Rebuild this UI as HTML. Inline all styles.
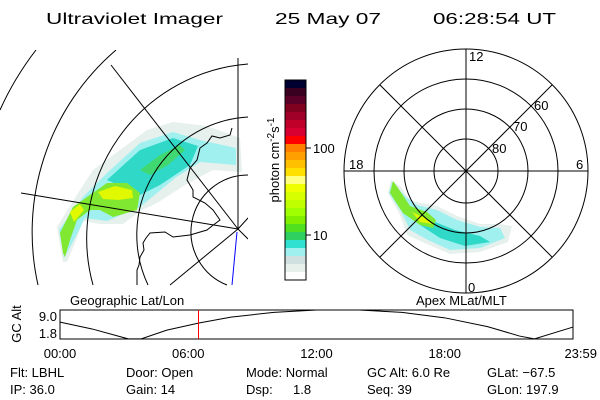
<!DOCTYPE html>
<html><head><meta charset="utf-8"><style>
html,body{margin:0;padding:0;background:#fff;overflow:hidden;width:600px;height:400px;}
svg{display:block;overflow:hidden;font-family:"Liberation Sans",sans-serif;}
</style></head><body>
<svg id="c" width="600" height="400" viewBox="0 0 600 400">
<g font-size="16" fill="#000">
<text x="46" y="24" textLength="177" lengthAdjust="spacingAndGlyphs">Ultraviolet Imager</text>
<text x="275" y="24" textLength="106" lengthAdjust="spacingAndGlyphs">25 May 07</text>
<text x="433" y="24" textLength="123" lengthAdjust="spacingAndGlyphs">06:28:54 UT</text>
</g>
<defs><clipPath id="lc"><rect x="0" y="50" width="248" height="236"/></clipPath>
<clipPath id="pc"><circle cx="466" cy="171" r="122"/></clipPath></defs>
<g clip-path="url(#lc)">
<g>
<path d="M63,262 L57,227 L80,190 L93,170 L120,150 L147,130 L173,122 L207,126 L240,138 L242,172 L213,170 L185,185 L157,203 L140,211 L123,224 L100,224 L83,221 L77,238 L67,262Z" fill="#e6f0ec"/>
<path d="M64,258 L59,230 L83,197 L107,173 L140,143 L173,132 L200,140 L236,148 L236,165 L200,162 L175,178 L157,193 L140,207 L107,221 L85,218 L75,238Z" fill="#a0f0f0"/>
<path d="M107,180 L140,150 L173,138 L198,146 L190,165 L160,185 L140,195Z" fill="#30d8c8"/>
<path d="M63,253 L60,233 L73,207 L87,197 L107,183 L127,183 L140,193 L137,210 L113,217 L100,210 L90,210 L77,220 L70,240 L65,257Z" fill="#80e830"/>
<path d="M98,192 L115,186 L132,190 L133,198 L118,200 L103,199Z M70,212 L80,204 L84,210 L74,222Z" fill="#e0f800"/>
<path d="M140,170 L160,155 L180,145 L185,150 L168,165 L150,175Z" fill="#40d870"/>
</g>
<g fill="none" stroke="#000" stroke-width="1">
<path d="M148,285 A118,118 0 0 1 248,117"/>
<path d="M93,285 A175,175 0 0 1 248,64"/>
<path d="M38,285 A240,240 0 0 1 116,50"/>
<path d="M0,110 A298,298 0 0 1 36,50"/>
<path d="M227,285 A57,57 0 0 1 248,175"/>
<line x1="238" y1="229" x2="21" y2="193"/><line x1="238" y1="229" x2="111" y2="65"/><line x1="238" y1="229" x2="238" y2="58"/>
<line x1="238" y1="229" x2="170" y2="285"/><line x1="238" y1="229" x2="248" y2="218"/><line x1="238" y1="229" x2="248" y2="239"/>
</g>
<path d="M237,232 L232,285" stroke="#0000ff" fill="none"/>
<path d="M232,128 L230,135 L220,138 L212,136 L207,143 L200,148 L197,160 L190,168 L187,180 L193,190 L193,197 L205,203 L213,210 L220,220 L212,226 L207,230 L190,235 L173,237 L165,232 L150,233 L146,238 L143,243 L144,250 L140,257 L139,265 L137,270 L137,285" fill="none" stroke="#000" stroke-width="1"/>
</g>
<g id="cb"></g>
<text transform="translate(279,160) rotate(-90)" text-anchor="middle" font-size="13">photon cm<tspan dy="-5" font-size="10">-2</tspan><tspan dy="5">s</tspan><tspan dy="-5" font-size="10">-1</tspan></text>
<g>
<g clip-path="url(#pc)">
<path d="M391,180 L388,193 L400,215 L407,235 L427,244 L450,254 L480,252 L508,242 L512,226 L500,224 L480,224 L457,216 L437,206 L417,202 L410,200 L400,186Z" fill="#e6f0ec"/>
<path d="M392,182 L389,193 L402,213 L410,230 L428,240 L450,250 L480,248 L505,238 L500,228 L480,227 L457,220 L437,210 L417,205 L405,196Z" fill="#a0f0f0"/>
<path d="M420,225 L440,238 L465,246 L490,242 L480,236 L455,230 L435,222Z" fill="#30d8c8"/>
<path d="M393,181 L390,193 L403,213 L420,225 L433,228 L436,220 L427,212 L410,206 L398,188Z" fill="#80e830"/>
<path d="M412,212 L425,218 L432,224 L420,222Z" fill="#e0f800"/>
</g>
<g fill="none" stroke="#000" stroke-width="1" id="pgrid">
<circle cx="466" cy="171" r="122"/><circle cx="466" cy="171" r="92"/><circle cx="466" cy="171" r="62"/><circle cx="466" cy="171" r="32"/>
<line x1="344" y1="171" x2="588" y2="171"/><line x1="466" y1="49" x2="466" y2="293"/>
<line x1="380" y1="85" x2="552" y2="257"/><line x1="380" y1="257" x2="552" y2="85"/>
</g>
<g font-size="13">
<text x="469" y="61">12</text><text x="349" y="169">18</text><text x="576" y="169">6</text><text x="468" y="292">0</text>
<text x="534" y="110">60</text><text x="513" y="131">70</text><text x="492" y="153">80</text>
</g></g>
<text x="70" y="305" font-size="13">Geographic Lat/Lon</text>
<text x="416" y="305" font-size="13">Apex MLat/MLT</text>
<g id="alt"></g>
<g font-size="13">
<text x="10" y="377">Flt: LBHL</text><text x="126" y="377">Door: Open</text><text x="246" y="377">Mode: Normal</text><text x="367" y="377">GC Alt: 6.0 Re</text><text x="487" y="377">GLat: −67.5</text>
<text x="10" y="394">IP: 36.0</text><text x="126" y="394">Gain: 14</text><text x="246" y="394">Dsp:</text><text x="293" y="394">1.8</text><text x="367" y="394">Seq: 39</text><text x="487" y="394">GLon: 197.9</text>
</g>
</svg>
<script>
const cbColors=["#000030","#3a0020","#5a0028","#800020","#a00028","#c00028","#d80030","#ff0000","#ff8000","#ffa000","#ffc000","#ffe000","#ffff80","#f0ff00","#d8ff00","#c0ff00","#a0ff00","#80f000","#50e020","#30d060","#30e0d0","#a0f0f0","#d0e0e0","#e8f0ec","#ffffff"];
const cbTicks=["100","10"];
const cbTickVals=[100,10];
const altTimes=[0,1.5,3.2,3.8,5,6.5,8,10,12,14,16,18,20,21.5,22.2,24];
const altValues=[6.4,3.5,-0.7,-0.7,3.0,6.0,8.5,10.5,11.5,11.5,10.5,8.2,4.5,0.5,-0.7,4.3];
const timeTicks=["00:00","06:00","12:00","18:00","23:59"];
const timeTickVals=[0,6,12,18,24];
const altTicks=["9.0","1.8"];
const altTickVals=[9.0,1.8];
const currentTime=6.48;
const NS="http://www.w3.org/2000/svg";
function mk(t,a,p){const e=document.createElementNS(NS,t);for(const k in a)e.setAttribute(k,a[k]);p.appendChild(e);return e;}
const cb=document.getElementById('cb');
const cbTop=80,cbBot=280,cbL=285,cbR=306,bh=(cbBot-cbTop)/cbColors.length;
cbColors.forEach((c,i)=>{const r=mk('rect',{x:cbL,y:cbTop+i*bh,width:cbR-cbL,height:bh+0.5,fill:c},cb);

});
const fr=mk('rect',{x:cbL,y:cbTop,width:cbR-cbL,height:cbBot-cbTop,fill:'none',stroke:'#000'},cb);


function cy(v){return 235-(Math.log10(v)-1)*87;}
cbTickVals.forEach((v,i)=>{const y=cy(v);mk('line',{x1:cbR,y1:y,x2:cbR+5,y2:y,stroke:'#000'},cb);
const t=mk('text',{x:cbR+7,y:y+5,'font-size':13},cb);t.textContent=cbTicks[i];

});
const g=document.getElementById('alt');
const x0=60,x1=573,yT=310,yB=339,vT=11.5,vB=-0.74;
function xs(t){return x0+t/24*(x1-x0);}
function ys(v){return yB-(v-vB)/(vT-vB)*(yB-yT);}
const box=mk('rect',{x:x0,y:yT,width:x1-x0,height:yB-yT,fill:'none',stroke:'#000'},g);


const pl=mk('polyline',{points:altTimes.map((t,i)=>xs(t)+','+ys(altValues[i])).join(' '),fill:'none',stroke:'#000'},g);


const rl=mk('line',{x1:xs(currentTime),y1:yT,x2:xs(currentTime),y2:yB,stroke:'#ff0000'},g);


timeTickVals.forEach((v,i)=>{const t=mk('text',{x:xs(v),y:358,'font-size':13,'text-anchor':i==4?'end':'middle'},g);
if(i==4)t.setAttribute('x',597);
t.textContent=timeTicks[i];

});
altTickVals.forEach((v,i)=>{const t=mk('text',{x:57,y:ys(v)+5,'font-size':13,'text-anchor':'end'},g);t.textContent=altTicks[i];

});
const yt=mk('text',{transform:'translate(21,324) rotate(-90)','font-size':13,'text-anchor':'middle'},g);yt.textContent='GC Alt';


</script>
</body></html>
